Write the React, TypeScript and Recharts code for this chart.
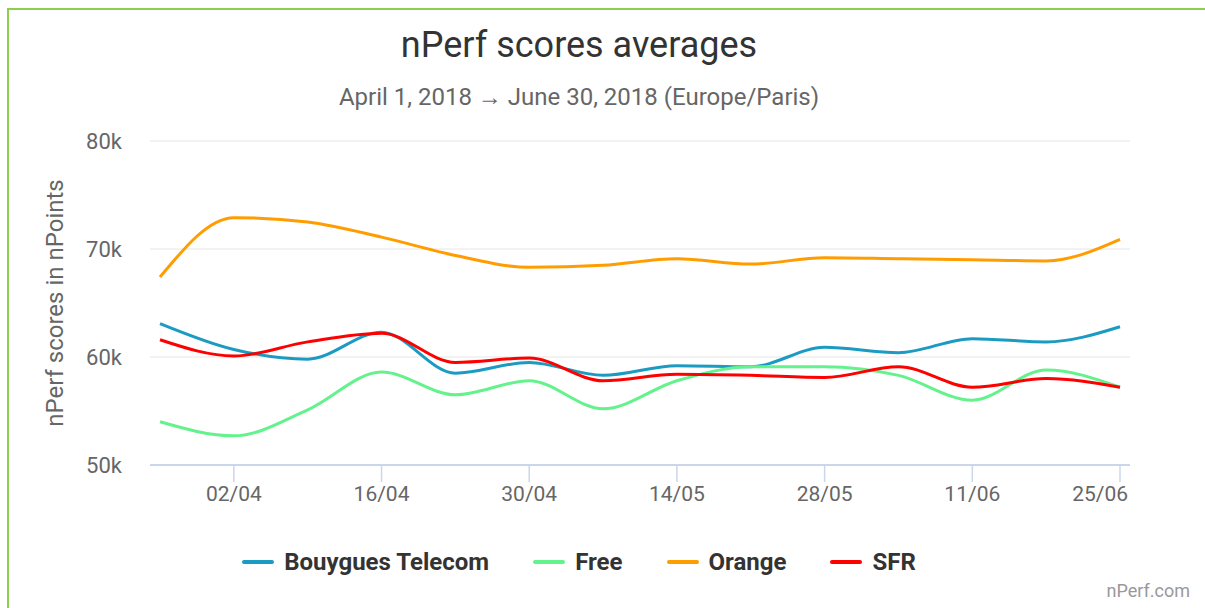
import React from "react";
import { LineChart, Line, XAxis, YAxis, CartesianGrid } from "recharts";

const weeks = ["26/03", "02/04", "09/04", "16/04", "23/04", "30/04", "07/05", "14/05", "21/05", "28/05", "04/06", "11/06", "18/06", "25/06"];
const bouygues = [63100, 60700, 59800, 62300, 58500, 59500, 58300, 59200, 59100, 60900, 60400, 61700, 61400, 62800];
const free = [54000, 52700, 55100, 58600, 56500, 57800, 55200, 57800, 59100, 59100, 58300, 56000, 58800, 57200];
const orange = [67400, 72900, 72500, 71100, 69400, 68300, 68500, 69100, 68600, 69200, 69100, 69000, 68900, 70900];
const sfr = [61600, 60100, 61400, 62200, 59500, 59900, 57800, 58400, 58300, 58100, 59100, 57200, 58000, 57200];
const xTicks = [1, 3, 5, 7, 9, 11, 13];
const yTicks = [50000, 60000, 70000, 80000];

const seriesDefs = [
  { key: "bouygues", name: "Bouygues Telecom", color: "#1b9bc2" },
  { key: "free", name: "Free", color: "#63f28c" },
  { key: "orange", name: "Orange", color: "#ff9d00" },
  { key: "sfr", name: "SFR", color: "#ff0000" },
];

const data = weeks.map((w, i) => ({
  i,
  week: w,
  bouygues: bouygues[i],
  free: free[i],
  orange: orange[i],
  sfr: sfr[i],
}));

const XTick = (props: any) => {
  const { x, y, payload } = props;
  const idx = payload.value as number;
  const last = idx === weeks.length - 1;
  return (
    <text
      x={last ? x + 8 : x}
      y={y}
      dy="0.71em"
      textAnchor={last ? "end" : "middle"}
      fill="#666"
      fontSize={21}
    >
      {weeks[idx]}
    </text>
  );
};

export default function App() {
  return (
    <div
      style={{
        position: "relative",
        width: 1205,
        height: 608,
        overflow: "hidden",
        fontFamily: "Roboto, 'Noto Sans', sans-serif",
        background: "#fff",
      }}
    >
      <style>{`body{margin:0;overflow:hidden;}`}</style>
      <div
        style={{
          position: "absolute",
          left: 7,
          top: 8,
          width: 1300,
          height: 700,
          borderTop: "2px solid #8ccf4f",
          borderLeft: "2px solid #8ccf4f",
        }}
      />
      <div
        style={{
          position: "absolute",
          left: 0,
          width: 1158,
          top: 23,
          textAlign: "center",
          fontSize: 36,
          color: "#333",
          lineHeight: "44px",
        }}
      >
        nPerf scores averages
      </div>
      <div
        style={{
          position: "absolute",
          left: 0,
          width: 1158,
          top: 82,
          textAlign: "center",
          fontSize: 24,
          color: "#666",
          lineHeight: "30px",
        }}
      >
        April 1, 2018 → June 30, 2018 (Europe/Paris)
      </div>
      <div
        style={{
          position: "absolute",
          left: 55,
          top: 303,
          transform: "translate(-50%, -50%) rotate(-90deg)",
          whiteSpace: "nowrap",
          fontSize: 24,
          color: "#666",
        }}
      >
        nPerf scores in nPoints
      </div>
      <div style={{ position: "absolute", left: 0, top: 0 }}>
        <LineChart
          width={1205}
          height={608}
          data={data}
          margin={{ top: 141, right: 75, bottom: 103, left: 0 }}
        >
          <CartesianGrid vertical={false} stroke="#e6e6e6" />
          <XAxis
            dataKey="i"
            type="number"
            domain={[0, weeks.length - 1]}
            ticks={xTicks}
            interval={0}
            padding={{ left: 10, right: 10 }}
            height={40}
            stroke="#ccd6eb"
            axisLine={{ stroke: "#ccd6eb", strokeWidth: 2 }}
            tickLine={{ stroke: "#ccd6eb", strokeWidth: 1.5 }}
            tickSize={17}
            tickMargin={4}
            tick={<XTick />}
          />
          <YAxis
            type="number"
            domain={[50000, 80000]}
            ticks={yTicks}
            width={150}
            axisLine={false}
            tickLine={false}
            tickSize={0}
            tickMargin={28}
            tick={{ fill: "#666", fontSize: 22 }}
            tickFormatter={(v: number) => `${v / 1000}k`}
          />
          {seriesDefs.map((s) => (
            <Line
              key={s.key}
              type="monotone"
              dataKey={s.key}
              name={s.name}
              stroke={s.color}
              strokeWidth={3}
              dot={false}
              isAnimationActive={false}
            />
          ))}
        </LineChart>
      </div>
      <div
        style={{
          position: "absolute",
          left: 0,
          width: 1158,
          top: 546,
          display: "flex",
          justifyContent: "center",
          gap: 44,
          fontSize: 24,
          fontWeight: "bold",
          color: "#333",
          lineHeight: "32px",
        }}
      >
        {seriesDefs.map((s) => (
          <div key={s.key} style={{ display: "flex", alignItems: "center" }}>
            <span
              style={{
                display: "inline-block",
                width: 32,
                height: 4,
                borderRadius: 2,
                background: s.color,
                marginRight: 10,
              }}
            />
            <span>{s.name}</span>
          </div>
        ))}
      </div>
      <div
        style={{
          position: "absolute",
          right: 15,
          top: 580,
          fontSize: 18,
          color: "#999",
        }}
      >
        nPerf.com
      </div>
    </div>
  );
}
